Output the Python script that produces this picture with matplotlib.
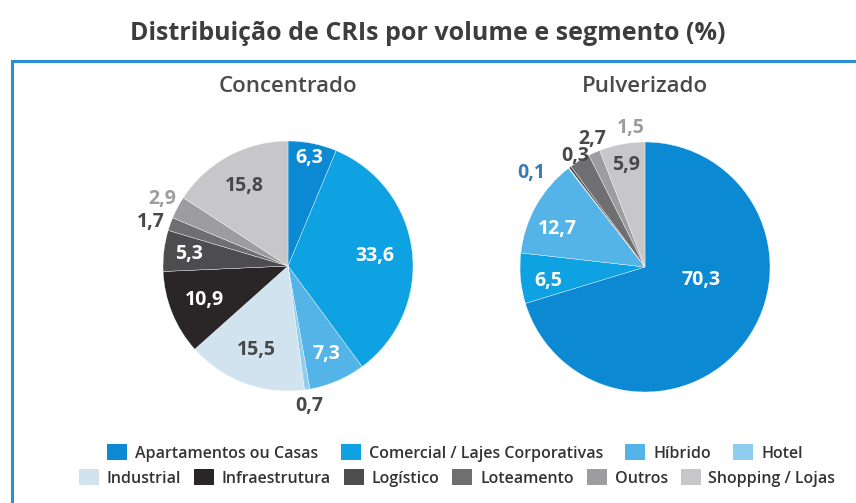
import numpy as np
import matplotlib.pyplot as plt
from matplotlib.patches import Patch, Rectangle

plt.rcParams['font.family'] = ['Open Sans', 'DejaVu Sans']

segments = ["Apartamentos ou Casas", "Comercial / Lajes Corporativas", "Híbrido", "Hotel",
            "Industrial", "Infraestrutura", "Logístico", "Loteamento", "Outros", "Shopping / Lojas"]
colors = ["#0b8ad3", "#0ea2e2", "#55b4e7", "#8fcdf0", "#d0e3ef",
          "#2a2627", "#4d4d4f", "#6f6f71", "#9d9d9f", "#c7c7c9"]

concentrado = [6.3, 33.6, 7.3, 0.7, 15.5, 10.9, 5.3, 1.7, 2.9, 15.8]
pulverizado = [70.3, 6.5, 12.7, 0.1, 0.0, 0.0, 0.3, 2.7, 1.5, 5.9]

DARK = "#484848"
W = "white"
# label style per wedge: (radius, angle shift in degrees, color), None = no label
conc_style = [(0.88, 0, W), (0.70, 0, W), (0.77, 0, W), (1.13, 0, DARK), (0.72, 0, DARK),
              (0.72, 0, W), (0.80, 0, W), (1.15, 2, DARK), (1.14, 0, "#9d9d9f"), (0.73, 0, DARK)]
pulv_style = [(0.46, 23, W), (0.78, 3, W), (0.76, 6, W), (1.18, 13, "#3b7ab8"), None,
              None, (1.05, -5, DARK), (1.11, -9, DARK), (1.12, -18, "#9d9d9f"), (0.83, 0, DARK)]

fig = plt.figure(figsize=(8.56, 5.03), dpi=100)

# blue frame
fig.patches.append(Rectangle((12 / 856, -0.1), 1.0, 1 - 61 / 503 + 0.1, transform=fig.transFigure,
                             fill=False, edgecolor="#2b8fd0", linewidth=2.2, zorder=0))

fig.text(0.5, 1 - 33 / 503, "Distribuição de CRIs por volume e segmento (%)",
         ha="center", va="center", fontsize=18, fontweight="bold", color="#3d3d3d")


def draw_pie(cx, cy, values, styles, title):
    r = 125
    ax = fig.add_axes([(cx - r) / 856, (503 - cy - r) / 503, 2 * r / 856, 2 * r / 503])
    wedges, _ = ax.pie(values, colors=colors, startangle=90, counterclock=False, radius=1,
                       wedgeprops=dict(edgecolor="white", linewidth=0.25))
    ax.set_xlim(-1, 1)
    ax.set_ylim(-1, 1)
    ax.set_aspect("auto")
    ax.axis("off")
    for w, v, st in zip(wedges, values, styles):
        if st is None:
            continue
        rad, shift, col = st
        ang = np.deg2rad((w.theta1 + w.theta2) / 2 + shift)
        ax.text(rad * np.cos(ang), rad * np.sin(ang), f"{v:.1f}".replace(".", ","),
                ha="center", va="center", fontsize=14, fontweight="bold", color=col,
                clip_on=False)
    fig.text(cx / 856, 1 - 87 / 503, title, ha="center", va="center",
             fontsize=16, fontweight="semibold", color="#4a4a4a")


draw_pie(288, 266, concentrado, conc_style, "Concentrado")
draw_pie(645, 267, pulverizado, pulv_style, "Pulverizado")

handles = [Patch(facecolor=c, edgecolor="none") for c in colors]
leg_kw = dict(frameon=False, loc="center", fontsize=11.5, handlelength=1.25, handleheight=1.1,
              handletextpad=0.5, borderpad=0, labelcolor="#333333")
fig.legend(handles[:4], segments[:4], ncol=4, columnspacing=1.4,
           bbox_to_anchor=(455 / 856, 1 - 453 / 503), **leg_kw)
fig.legend(handles[4:], segments[4:], ncol=6, columnspacing=0.8,
           bbox_to_anchor=(457 / 856, 1 - 478 / 503), **leg_kw)
for leg in fig.legends:
    for t in leg.get_texts():
        t.set_fontweight("semibold")

fig.savefig("out.png", dpi=100)
